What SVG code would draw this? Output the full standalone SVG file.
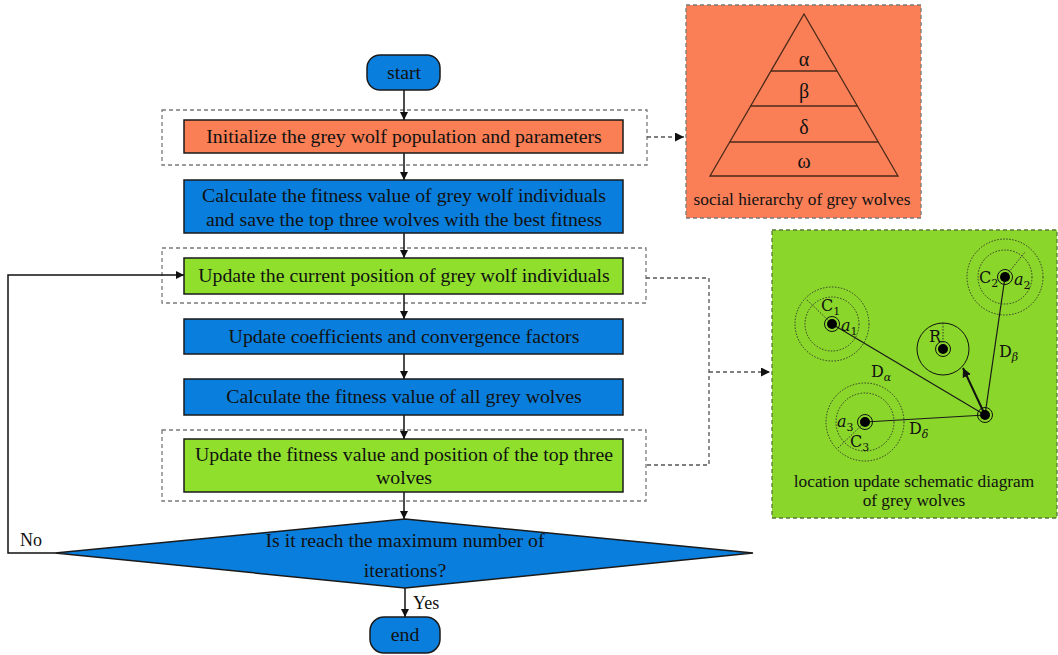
<svg xmlns="http://www.w3.org/2000/svg" width="1058" height="655" viewBox="0 0 1058 655">
<defs>
<style>
.t{font-family:"Liberation Serif","Times New Roman",serif;font-size:19.8px;fill:#111;text-anchor:middle}
.n{font-family:"Liberation Serif","Times New Roman",serif;font-size:18px;fill:#111}
.s{font-family:"Liberation Serif","Times New Roman",serif;font-size:17.3px;fill:#111;text-anchor:middle}
.g{font-family:"Liberation Serif","Times New Roman",serif;font-size:20px;fill:#111;text-anchor:middle}
.m{font-family:"DejaVu Serif","Liberation Serif",serif;font-size:16px;fill:#111}
.box{stroke:#1a1a1a;stroke-width:1.5}
.blue{fill:#0a7edc}
.green{fill:#8fdf2c}
.orange{fill:#fa7f55}
.grp{fill:none;stroke:#7a7a7a;stroke-width:1.3;stroke-dasharray:4 3}
.flow{stroke:#111;stroke-width:1.5;fill:none}
.dash{stroke:#555;stroke-width:1.3;fill:none;stroke-dasharray:4 3}
.dot{fill:none;stroke:#2a2a2a;stroke-width:0.9;stroke-dasharray:1.5 1.5}
.ln{stroke:#1a1a1a;stroke-width:1.2;fill:none}
</style>
<marker id="ah" viewBox="0 0 10 10" refX="10" refY="5" markerWidth="8" markerHeight="8" markerUnits="userSpaceOnUse" orient="auto">
<path d="M0,0 L10,5 L0,10 z" fill="#111"/>
</marker>
<marker id="ahs" viewBox="0 0 10 10" refX="10" refY="5" markerWidth="9" markerHeight="9" markerUnits="userSpaceOnUse" orient="auto">
<path d="M0,0 L10,5 L0,10 z" fill="#111"/>
</marker>
</defs>
<rect width="1058" height="655" fill="#fff"/>

<g id="groups">
<rect class="grp" x="162" y="110" width="485" height="55"/>
<rect class="grp" x="162" y="248" width="484" height="55"/>
<rect class="grp" x="162" y="430" width="484" height="71"/>
</g>

<g id="connectors">
<line class="flow" x1="404" y1="90" x2="404" y2="120" marker-end="url(#ah)"/>
<line class="flow" x1="404" y1="153" x2="404" y2="180" marker-end="url(#ah)"/>
<line class="flow" x1="404" y1="233" x2="404" y2="258" marker-end="url(#ah)"/>
<line class="flow" x1="404" y1="294" x2="404" y2="319" marker-end="url(#ah)"/>
<line class="flow" x1="404" y1="354" x2="404" y2="379" marker-end="url(#ah)"/>
<line class="flow" x1="404" y1="415" x2="404" y2="439" marker-end="url(#ah)"/>
<line class="flow" x1="404" y1="492" x2="404" y2="519" marker-end="url(#ah)"/>
<line class="flow" x1="405" y1="588" x2="405" y2="617" marker-end="url(#ah)"/>
<polyline class="flow" points="55,553 8,553 8,275 184,275" marker-end="url(#ah)"/>
<line class="dash" x1="647" y1="137" x2="684" y2="137" marker-end="url(#ahs)"/>
<polyline class="dash" points="646,278 709,278 709,465 646,465"/>
<line class="dash" x1="709" y1="372" x2="770" y2="372" marker-end="url(#ahs)"/>
<text x="20" y="546" class="n">No</text>
<text x="413" y="609" class="n">Yes</text>
</g>

<g id="start">
<rect class="box blue" x="367" y="55" width="73" height="35" rx="13"/>
<text class="t" x="404" y="79">start</text>
</g>
<g id="init">
<rect class="box orange" x="184" y="120" width="439" height="33"/>
<text class="t" x="404" y="143">Initialize the grey wolf population and parameters</text>
</g>
<g id="fitness">
<rect class="box blue" x="184" y="180" width="439" height="53"/>
<text class="t" x="404" y="202">Calculate the fitness value of grey wolf individuals</text>
<text class="t" x="404" y="226">and save the top three wolves with the best fitness</text>
</g>
<g id="update-pos">
<rect class="box green" x="184" y="258" width="439" height="36"/>
<text class="t" x="404" y="282">Update the current position of grey wolf individuals</text>
</g>
<g id="update-coef">
<rect class="box blue" x="184" y="319" width="439" height="35"/>
<text class="t" x="404" y="343">Update coefficients and convergence factors</text>
</g>
<g id="fitness-all">
<rect class="box blue" x="184" y="379" width="439" height="36"/>
<text class="t" x="404" y="403">Calculate the fitness value of all grey wolves</text>
</g>
<g id="update-top">
<rect class="box green" x="184" y="439" width="439" height="53"/>
<text class="t" x="404" y="461">Update the fitness value and position of the top three</text>
<text class="t" x="404" y="484">wolves</text>
</g>
<g id="decision">
<polygon class="box blue" points="405,519 753,553 405,588 55,553"/>
<text class="t" x="405" y="547">Is it reach the maximum number of</text>
<text class="t" x="405" y="577">iterations?</text>
</g>
<g id="end">
<rect class="box blue" x="370" y="617" width="70" height="36" rx="14"/>
<text class="t" x="405" y="641">end</text>
</g>

<g id="hierarchy">
<rect x="686" y="5" width="235" height="213" fill="#fa7f57" stroke="#7a7a7a" stroke-width="1.3" stroke-dasharray="4 3"/>
<polygon points="804,14 898,176 710,176" fill="none" stroke="#4a2a1a" stroke-width="1.3"/>
<line x1="771" y1="71" x2="837" y2="71" stroke="#4a2a1a" stroke-width="1.3"/>
<line x1="750.6" y1="106" x2="857.4" y2="106" stroke="#4a2a1a" stroke-width="1.3"/>
<line x1="729.7" y1="142" x2="878.3" y2="142" stroke="#4a2a1a" stroke-width="1.3"/>
<text class="g" x="804" y="66">α</text>
<text class="g" x="804" y="98">β</text>
<text class="g" x="804" y="134">δ</text>
<text class="g" x="804" y="168">ω</text>
<text class="s" x="802" y="205">social hierarchy of grey wolves</text>
</g>

<g id="location">
<rect x="772" y="230" width="285" height="288" fill="#8ad62a" stroke="#5a7a3a" stroke-width="1.3" stroke-dasharray="4 3"/>
<line class="ln" x1="985" y1="415" x2="832" y2="324"/>
<line class="ln" x1="985" y1="415" x2="1005" y2="277"/>
<line class="ln" x1="985" y1="415" x2="865" y2="422"/>
<line x1="985" y1="415" x2="963" y2="368" stroke="#111" stroke-width="2" marker-end="url(#ahs)"/>
<circle class="dot" cx="832" cy="324" r="27"/>
<circle class="dot" cx="832" cy="324" r="37"/>
<line class="dot" x1="832" y1="324" x2="806" y2="299"/>
<circle cx="832" cy="324" r="7.5" fill="none" stroke="#111" stroke-width="1"/>
<circle cx="832" cy="324" r="5" fill="#000"/>
<text class="m" x="821" y="311">C<tspan font-size="11" dy="4">1</tspan></text>
<text class="m" x="841" y="331" font-style="italic">a<tspan font-size="11" dy="4" font-style="normal">1</tspan></text>
<circle class="dot" cx="1005" cy="277" r="27"/>
<circle class="dot" cx="1005" cy="277" r="38"/>
<line class="dot" x1="1005" y1="277" x2="1025" y2="252"/>
<circle cx="1005" cy="277" r="7.5" fill="none" stroke="#111" stroke-width="1"/>
<circle cx="1005" cy="277" r="5" fill="#000"/>
<text class="m" x="979" y="283">C<tspan font-size="11" dy="4">2</tspan></text>
<text class="m" x="1014" y="285" font-style="italic">a<tspan font-size="11" dy="4" font-style="normal">2</tspan></text>
<circle cx="943" cy="349" r="26" fill="none" stroke="#111" stroke-width="1"/>
<line class="dot" x1="943" y1="323" x2="943" y2="349"/>
<circle cx="943" cy="349" r="7.5" fill="none" stroke="#111" stroke-width="1"/>
<circle cx="943" cy="349" r="5" fill="#000"/>
<text class="m" x="929" y="342">R</text>
<circle class="dot" cx="865" cy="422" r="29"/>
<circle class="dot" cx="865" cy="422" r="39"/>
<line class="dot" x1="865" y1="422" x2="838" y2="448"/>
<circle cx="865" cy="422" r="7.5" fill="none" stroke="#111" stroke-width="1"/>
<circle cx="865" cy="422" r="5" fill="#000"/>
<text class="m" x="837" y="427" font-style="italic">a<tspan font-size="11" dy="4" font-style="normal">3</tspan></text>
<text class="m" x="850" y="447">C<tspan font-size="11" dy="4">3</tspan></text>
<circle cx="985" cy="415" r="7.5" fill="none" stroke="#111" stroke-width="1"/>
<circle cx="985" cy="415" r="5" fill="#000"/>
<text class="m" x="871" y="377">D<tspan font-size="11" dy="4" font-style="italic">α</tspan></text>
<text class="m" x="999" y="357">D<tspan font-size="11" dy="4" font-style="italic">β</tspan></text>
<text class="m" x="909" y="434">D<tspan font-size="11" dy="4" font-style="italic">δ</tspan></text>
<text class="s" x="914" y="487">location update schematic diagram</text>
<text class="s" x="914" y="506">of grey wolves</text>
</g>
</svg>
